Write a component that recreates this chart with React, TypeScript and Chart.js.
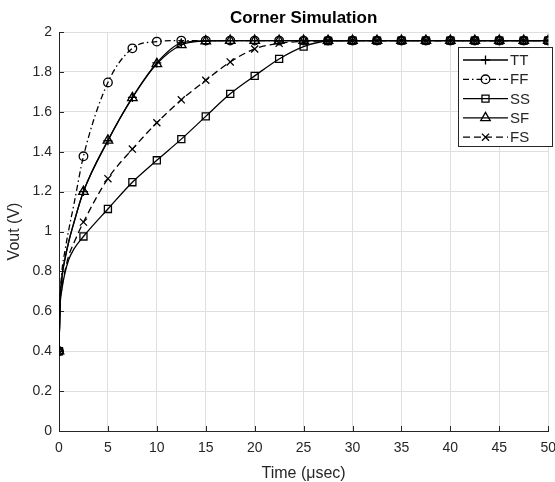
import React, { useEffect, useRef } from 'react';
import { Chart, registerables } from 'chart.js';

Chart.register(...registerables);

const chartTitle = 'Corner Simulation';
const xAxisTitle = 'Time (\u03bcsec)';
const yAxisTitle = 'Vout (V)';

const time = [0, 0.1, 0.3, 0.6, 1, 1.5, 2.5, 5, 7.5, 10, 12.5, 15, 17.5, 20, 22.5, 25, 27.5, 30, 32.5, 35, 37.5, 40, 42.5, 45, 47.5, 50];

const ttValues = [0.4, 0.63, 0.77, 0.86, 0.95, 1.04, 1.2, 1.455, 1.672, 1.845, 1.945, 1.956, 1.957, 1.957, 1.957, 1.957, 1.957, 1.957, 1.957, 1.957, 1.957, 1.957, 1.957, 1.957, 1.957, 1.957];
const ffValues = [0.4, 0.64, 0.8, 0.9, 1.01, 1.13, 1.377, 1.747, 1.918, 1.952, 1.957, 1.957, 1.957, 1.957, 1.957, 1.957, 1.957, 1.957, 1.957, 1.957, 1.957, 1.957, 1.957, 1.957, 1.957, 1.957];
const ssValues = [0.4, 0.61, 0.71, 0.79, 0.86, 0.91, 0.975, 1.113, 1.247, 1.357, 1.463, 1.577, 1.69, 1.78, 1.865, 1.927, 1.955, 1.957, 1.957, 1.957, 1.957, 1.957, 1.957, 1.957, 1.957, 1.957];
const sfValues = [0.4, 0.63, 0.77, 0.86, 0.95, 1.04, 1.2, 1.457, 1.67, 1.84, 1.935, 1.955, 1.957, 1.957, 1.957, 1.957, 1.957, 1.957, 1.957, 1.957, 1.957, 1.957, 1.957, 1.957, 1.957, 1.957];
const fsValues = [0.4, 0.62, 0.72, 0.8, 0.88, 0.94, 1.047, 1.265, 1.413, 1.545, 1.66, 1.758, 1.85, 1.915, 1.943, 1.953, 1.956, 1.957, 1.957, 1.957, 1.957, 1.957, 1.957, 1.957, 1.957, 1.957];

const seriesNames = ['TT', 'FF', 'SS', 'SF', 'FS'];

const xTickMin = 0;
const xTickMax = 50;
const xTickStep = 5;
const yTickMin = 0;
const yTickMax = 2;
const yTickStep = 0.2;
const markerStep = 2.5;

const FONT = '"Liberation Sans", Arial, Helvetica, sans-serif';
const INK = '#262626';
const GRID = '#dfdfdf';
const LINE_W = 1.3;

type SeriesStyle = { marker: string; radius: number; dash: number[] };
const styles: SeriesStyle[] = [
  { marker: 'cross', radius: 4.5, dash: [] },
  { marker: 'circle', radius: 4.3, dash: [6, 3, 1.5, 3] },
  { marker: 'rect', radius: 5, dash: [] },
  { marker: 'triangle', radius: 5.5, dash: [] },
  { marker: 'crossRot', radius: 5, dash: [7, 4] },
];

const allValues = [ttValues, ffValues, ssValues, sfValues, fsValues];

function drawMarker(ctx: CanvasRenderingContext2D, style: string, x: number, y: number, r: number) {
  ctx.beginPath();
  if (style === 'cross') {
    ctx.moveTo(x - r, y); ctx.lineTo(x + r, y);
    ctx.moveTo(x, y - r); ctx.lineTo(x, y + r);
  } else if (style === 'circle') {
    ctx.arc(x, y, r, 0, Math.PI * 2);
  } else if (style === 'rect') {
    const s = r * Math.SQRT1_2;
    ctx.rect(x - s, y - s, 2 * s, 2 * s);
  } else if (style === 'triangle') {
    let a = 0;
    ctx.moveTo(x + Math.sin(a) * r, y - Math.cos(a) * r);
    a += (2 * Math.PI) / 3;
    ctx.lineTo(x + Math.sin(a) * r, y - Math.cos(a) * r);
    a += (2 * Math.PI) / 3;
    ctx.lineTo(x + Math.sin(a) * r, y - Math.cos(a) * r);
    ctx.closePath();
  } else if (style === 'crossRot') {
    const d = r * Math.SQRT1_2;
    ctx.moveTo(x - d, y - d); ctx.lineTo(x + d, y + d);
    ctx.moveTo(x + d, y - d); ctx.lineTo(x - d, y + d);
  }
  ctx.stroke();
}

const overlayPlugin = {
  id: 'matlabOverlay',
  beforeDatasetsDraw(chart: any) {
    const { ctx, chartArea, scales } = chart;
    ctx.save();
    ctx.strokeStyle = INK;
    ctx.lineWidth = 1;
    ctx.beginPath();
    for (let v = xTickMin; v <= xTickMax + 1e-9; v += xTickStep) {
      const px = Math.round(scales.x.getPixelForValue(v)) + 0.5;
      ctx.moveTo(px, chartArea.bottom);
      ctx.lineTo(px, chartArea.bottom - 5);
    }
    for (let i = 0; i <= Math.round((yTickMax - yTickMin) / yTickStep); i++) {
      const v = yTickMin + i * yTickStep;
      const py = Math.round(scales.y.getPixelForValue(v)) + 0.5;
      ctx.moveTo(chartArea.left, py);
      ctx.lineTo(chartArea.left + 5, py);
    }
    ctx.stroke();
    ctx.restore();
  },
  afterDraw(chart: any) {
    const { ctx, chartArea } = chart;
    ctx.save();
    // title
    ctx.fillStyle = '#000';
    ctx.font = `bold 17px ${FONT}`;
    ctx.textAlign = 'center';
    ctx.textBaseline = 'middle';
    ctx.fillText(chartTitle, (chartArea.left + chartArea.right) / 2, 18);

    // legend
    const bx = 458.5, by = 47.5, bw = 94, bh = 99;
    ctx.fillStyle = '#fff';
    ctx.fillRect(bx, by, bw, bh);
    ctx.strokeStyle = INK;
    ctx.lineWidth = 1;
    ctx.setLineDash([]);
    ctx.strokeRect(bx, by, bw, bh);
    ctx.font = `15px ${FONT}`;
    ctx.textAlign = 'left';
    ctx.textBaseline = 'middle';
    seriesNames.forEach((name, i) => {
      const y = 60 + i * 19.3;
      const st = styles[i];
      ctx.strokeStyle = '#000';
      ctx.lineWidth = LINE_W;
      ctx.setLineDash(st.dash);
      ctx.beginPath();
      ctx.moveTo(463, y);
      ctx.lineTo(508, y);
      ctx.stroke();
      ctx.setLineDash([]);
      drawMarker(ctx, st.marker, 485.5, y, st.radius);
      ctx.fillStyle = INK;
      ctx.fillText(name, 510, y + 1);
    });
    ctx.restore();
  },
};

export default function App() {
  const canvasRef = useRef<HTMLCanvasElement | null>(null);

  useEffect(() => {
    document.body.style.margin = '0';
    const canvas = canvasRef.current;
    if (!canvas) return;

    const datasets = seriesNames.map((name, i) => ({
      label: name,
      data: time.map((t, j) => ({ x: t, y: allValues[i][j] })),
      borderColor: '#000',
      backgroundColor: 'rgba(0,0,0,0)',
      borderWidth: LINE_W,
      borderDash: styles[i].dash,
      pointStyle: styles[i].marker,
      pointRadius: (c: any) => (c.raw && c.raw.x % markerStep === 0 ? styles[i].radius : 0),
      pointBorderColor: '#000',
      pointBackgroundColor: 'rgba(0,0,0,0)',
      pointBorderWidth: LINE_W,
      cubicInterpolationMode: 'monotone' as const,
      fill: false,
    }));

    const chart = new Chart(canvas, {
      type: 'line',
      data: { datasets },
      plugins: [overlayPlugin],
      options: {
        animation: false,
        responsive: false,
        maintainAspectRatio: false,
        layout: { padding: { top: 32, right: 5.7, bottom: 0, left: 0 } },
        plugins: {
          legend: { display: false },
          title: { display: false },
          tooltip: { enabled: false },
        },
        scales: {
          x: {
            type: 'linear',
            min: xTickMin,
            max: xTickMax,
            afterFit: (s: any) => { s.height = 51; s.paddingLeft = 0; s.paddingRight = 0; },
            ticks: {
              stepSize: xTickStep,
              color: INK,
              font: { family: FONT, size: 14 },
              padding: 9,
              maxRotation: 0,
            },
            grid: { color: GRID, drawTicks: false, lineWidth: 1 },
            border: { display: true, color: INK, width: 1 },
            title: {
              display: true,
              text: xAxisTitle,
              color: INK,
              font: { family: FONT, size: 16, lineHeight: 1 },
              padding: { top: 0, bottom: 0 },
            },
          },
          y: {
            type: 'linear',
            min: yTickMin,
            max: yTickMax,
            afterFit: (s: any) => { s.width = 59; s.paddingTop = 0; s.paddingBottom = 0; },
            ticks: {
              stepSize: yTickStep,
              color: INK,
              font: { family: FONT, size: 14 },
              padding: 7,
              callback: (v: any) => String(Math.round(Number(v) * 10) / 10),
            },
            grid: { color: GRID, drawTicks: false, lineWidth: 1 },
            border: { display: true, color: INK, width: 1 },
            title: {
              display: true,
              text: yAxisTitle,
              color: INK,
              font: { family: FONT, size: 16, lineHeight: 1 },
              padding: { top: 7, bottom: 0 },
            },
          },
        },
      },
    });

    return () => chart.destroy();
  }, []);

  return <canvas ref={canvasRef} width={555} height={482} style={{ display: 'block' }} />;
}
